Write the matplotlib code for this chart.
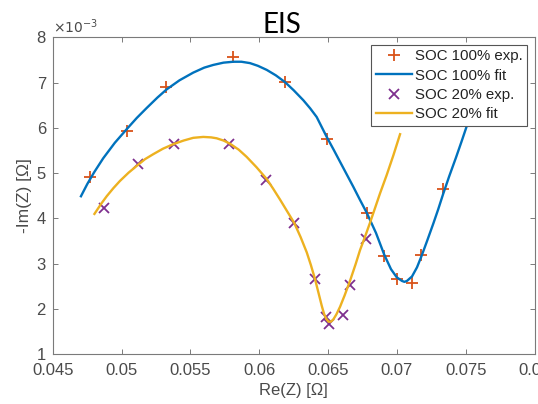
import matplotlib
matplotlib.use("Agg")
import matplotlib.pyplot as plt

# ---- data (Re(Z) in Ohm, -Im(Z) in 1e-3 Ohm) ----
soc100_exp_re = [0.04770, 0.05036, 0.05322, 0.05812, 0.06187, 0.06490,
                 0.06780, 0.06908, 0.06998, 0.07112, 0.07175, 0.07333]
soc100_exp_im = [4.92, 5.94, 6.91, 7.56, 7.02, 5.75,
                 4.13, 3.17, 2.66, 2.58, 3.19, 4.66]

soc100_fit_re = [0.04704, 0.04750, 0.04800, 0.04866, 0.04950, 0.05036, 0.05110,
                 0.05182, 0.05260, 0.05327, 0.05420, 0.05520, 0.05600, 0.05666,
                 0.05740, 0.05811, 0.05870, 0.05932, 0.05990, 0.06054, 0.06120,
                 0.06187, 0.06250, 0.06320, 0.06370, 0.06417, 0.06490, 0.06540,
                 0.06587, 0.06683, 0.06730, 0.06780, 0.06848, 0.06908, 0.06957,
                 0.06999, 0.07037, 0.07055, 0.07073, 0.07110, 0.07146, 0.07179,
                 0.07219, 0.07265, 0.07300, 0.07335, 0.07380, 0.07430, 0.07470,
                 0.07510, 0.07550]
soc100_fit_im = [4.49, 4.76, 5.02, 5.33, 5.67, 5.97, 6.22,
                 6.44, 6.67, 6.85, 7.05, 7.22, 7.33, 7.39,
                 7.44, 7.46, 7.46, 7.43, 7.37, 7.28, 7.16,
                 7.01, 6.83, 6.61, 6.43, 6.24, 5.80, 5.52,
                 5.25, 4.70, 4.42, 4.13, 3.68, 3.20, 2.88,
                 2.70, 2.62, 2.60, 2.62, 2.72, 2.92, 3.17,
                 3.50, 3.89, 4.20, 4.53, 4.93, 5.35, 5.70,
                 6.06, 6.42]

soc20_exp_re = [0.04874, 0.05115, 0.05382, 0.05782, 0.06049, 0.06254,
                0.06405, 0.06488, 0.06504, 0.06610, 0.06659, 0.06775]
soc20_exp_im = [4.22, 5.20, 5.64, 5.65, 4.85, 3.90,
                2.66, 1.82, 1.67, 1.87, 2.53, 3.55]

soc20_fit_re = [0.04802, 0.04850, 0.04891, 0.04940, 0.04988, 0.05050, 0.05109,
                0.05170, 0.05230, 0.05300, 0.05375, 0.05450, 0.05520, 0.05593,
                0.05650, 0.05690, 0.05740, 0.05787, 0.05850, 0.05908, 0.05980,
                0.06054, 0.06100, 0.06150, 0.06200, 0.06254, 0.06300, 0.06345,
                0.06375, 0.06405, 0.06430, 0.06454, 0.06470, 0.06485, 0.06503,
                0.06520, 0.06538, 0.06560, 0.06587, 0.06620, 0.06659, 0.06700,
                0.06732, 0.06770, 0.06804, 0.06840, 0.06877, 0.06926, 0.06975,
                0.07023]
soc20_fit_im = [4.10, 4.32, 4.49, 4.67, 4.83, 5.01, 5.16,
                5.31, 5.42, 5.54, 5.64, 5.72, 5.78, 5.80,
                5.79, 5.77, 5.72, 5.65, 5.52, 5.36, 5.13,
                4.87, 4.66, 4.42, 4.17, 3.90, 3.59, 3.25,
                2.97, 2.66, 2.36, 2.07, 1.90, 1.79, 1.72,
                1.72, 1.77, 1.88, 2.05, 2.30, 2.62, 2.99,
                3.30, 3.61, 3.90, 4.22, 4.55, 4.96, 5.40,
                5.86]

x_ticks = [0.045, 0.05, 0.055, 0.06, 0.065, 0.07, 0.075, 0.08]
x_tick_labels = ["0.045", "0.05", "0.055", "0.06", "0.065", "0.07", "0.075", "0.08"]
y_ticks = [1, 2, 3, 4, 5, 6, 7, 8]
y_tick_labels = ["1", "2", "3", "4", "5", "6", "7", "8"]

labels = ["SOC 100% exp.", "SOC 100% fit", "SOC 20% exp.", "SOC 20% fit"]

# ---- style ----
blue = "#0072BD"
orange = "#D95319"
yellow = "#EDB120"
purple = "#7E2F8E"
axis_grey = "#7a7a7a"
text_grey = "#4a4a4a"

plt.rcParams["font.family"] = ["Liberation Sans", "DejaVu Sans"]

fig = plt.figure(figsize=(5.38, 4.04), dpi=100)
ax = fig.add_axes([0.0983, 0.123, 0.8952, 0.7847])

ax.plot(soc100_exp_re, soc100_exp_im, linestyle="none", marker="+",
        markersize=8.5, markeredgewidth=1.3, color=orange, label=labels[0], zorder=3)
ax.plot(soc100_fit_re, soc100_fit_im, color=blue, linewidth=1.7,
        label=labels[1], zorder=4, solid_joinstyle="round")
ax.plot(soc20_exp_re, soc20_exp_im, linestyle="none", marker="x",
        markersize=6.5, markeredgewidth=1.3, color=purple, label=labels[2], zorder=3)
ax.plot(soc20_fit_re, soc20_fit_im, color=yellow, linewidth=1.7,
        label=labels[3], zorder=4, solid_joinstyle="round")

ax.set_xlim(0.045, 0.08)
ax.set_ylim(1, 8)
ax.set_xticks(x_ticks)
ax.set_xticklabels(x_tick_labels)
ax.set_yticks(y_ticks)
ax.set_yticklabels(y_tick_labels)

ax.tick_params(direction="in", length=3.5, width=0.7, colors=axis_grey,
               labelcolor=text_grey, labelsize=12, top=True, right=True)
ax.tick_params(axis="x", pad=6.0)
ax.tick_params(axis="y", pad=5.0)
for s in ax.spines.values():
    s.set_color(axis_grey)
    s.set_linewidth(0.8)

ax.set_xlabel("Re(Z) [Ω]", fontsize=12, color=text_grey, labelpad=4)
ax.set_ylabel("-Im(Z) [Ω]", fontsize=12.5, color=text_grey, labelpad=3)

ax.text(0.0, 1.005, r"$\times10^{-3}$", transform=ax.transAxes, ha="left",
        va="bottom", fontsize=10, color=text_grey)

fig.text(282 / 538, 1 - 33 / 404, "EIS", ha="center", va="baseline",
         fontsize=20, family=["Lato", "DejaVu Sans"], color="black")

leg = ax.legend(loc="upper right", fontsize=10.8, frameon=True, fancybox=False,
                borderpad=0.3, labelspacing=0.35, handlelength=2.4,
                handletextpad=0.2, borderaxespad=0.5, framealpha=1.0)
leg.get_frame().set_edgecolor("#555555")
leg.get_frame().set_linewidth(0.8)
for t in leg.get_texts():
    t.set_color("#222222")

fig.savefig("out.png", dpi=100)
